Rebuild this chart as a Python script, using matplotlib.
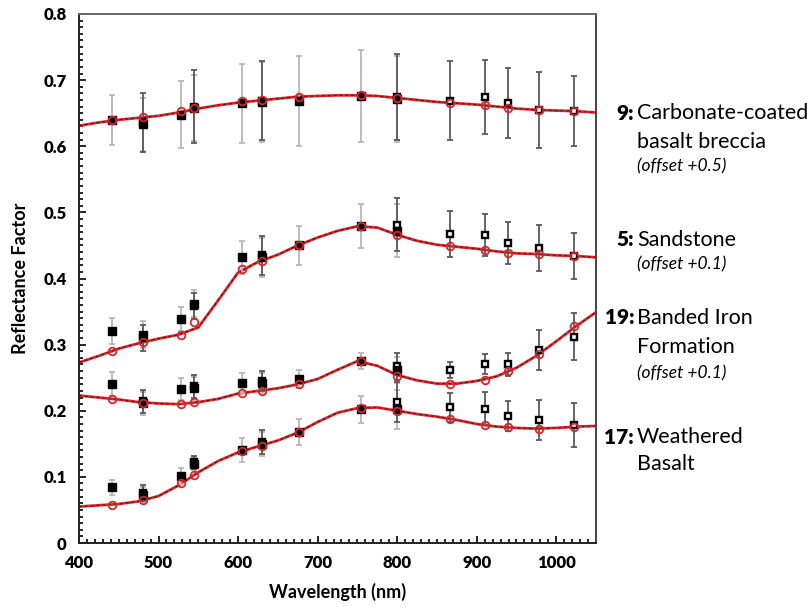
import numpy as np
import matplotlib
matplotlib.use("Agg")
import matplotlib.pyplot as plt
from matplotlib.ticker import MultipleLocator

plt.rcParams['font.family'] = ['Lato', 'DejaVu Sans']

# ---------------- data ----------------
wl_left = [442, 480, 528, 544, 605, 630, 677, 754, 800]
wl_right = [480, 544, 630, 800, 866, 910, 939, 978, 1022]
wl_model = [442, 480, 528, 544, 605, 630, 677, 754, 800, 866, 910, 939, 978, 1022]
wl_curve = [400, 425, 450, 475, 500, 525, 550, 575, 600, 625, 650, 675, 700,
            725, 750, 775, 800, 825, 850, 875, 900, 925, 950, 975, 1000, 1025, 1050]

# Sample 9: Carbonate-coated basalt breccia (offset +0.5)
s9_left = [0.640, 0.633, 0.648, 0.658, 0.665, 0.667, 0.669, 0.676, 0.672]
s9_left_err = [0.038, 0.040, 0.050, 0.050, 0.060, 0.060, 0.068, 0.070, 0.065]
s9_right = [0.636, 0.660, 0.669, 0.674, 0.669, 0.675, 0.665, 0.655, 0.653]
s9_right_err = [0.044, 0.055, 0.060, 0.065, 0.060, 0.056, 0.053, 0.057, 0.053]
s9_model = [0.640, 0.644, 0.653, 0.658, 0.668, 0.670, 0.675, 0.677, 0.673,
            0.666, 0.662, 0.658, 0.655, 0.653]
s9_curve = [0.631, 0.636, 0.640, 0.643, 0.646, 0.651, 0.657, 0.662, 0.666, 0.669,
            0.672, 0.675, 0.676, 0.677, 0.677, 0.676, 0.673, 0.670, 0.667, 0.665,
            0.663, 0.660, 0.657, 0.655, 0.654, 0.653, 0.651]

# Sample 5: Sandstone (offset +0.1)
s5_left = [0.321, 0.315, 0.339, 0.362, 0.432, 0.432, 0.450, 0.479, 0.472]
s5_left_err = [0.020, 0.020, 0.018, 0.020, 0.025, 0.030, 0.030, 0.033, 0.040]
s5_right = [0.310, 0.358, 0.435, 0.481, 0.467, 0.466, 0.454, 0.446, 0.434]
s5_right_err = [0.020, 0.020, 0.030, 0.040, 0.035, 0.032, 0.032, 0.035, 0.035]
s5_model = [0.291, 0.304, 0.315, 0.334, 0.414, 0.426, 0.451, 0.479, 0.466,
            0.449, 0.443, 0.439, 0.437, 0.434]
s5_curve = [0.273, 0.283, 0.294, 0.302, 0.309, 0.315, 0.326, 0.367, 0.409, 0.425,
            0.436, 0.450, 0.462, 0.472, 0.479, 0.477, 0.466, 0.457, 0.451, 0.448,
            0.445, 0.441, 0.438, 0.437, 0.435, 0.434, 0.432]

# Sample 19: Banded Iron Formation (offset +0.1)
s19_left = [0.241, 0.211, 0.233, 0.234, 0.242, 0.242, 0.248, 0.275, 0.262]
s19_left_err = [0.018, 0.018, 0.017, 0.017, 0.015, 0.015, 0.013, 0.012, 0.020]
s19_right = [0.214, 0.237, 0.245, 0.267, 0.261, 0.271, 0.270, 0.292, 0.312]
s19_right_err = [0.018, 0.017, 0.015, 0.020, 0.012, 0.015, 0.018, 0.030, 0.036]
s19_model = [0.218, 0.212, 0.210, 0.213, 0.227, 0.230, 0.240, 0.275, 0.253,
             0.241, 0.247, 0.260, 0.286, 0.328]
s19_curve = [0.223, 0.220, 0.217, 0.213, 0.211, 0.210, 0.213, 0.218, 0.226, 0.230,
             0.234, 0.240, 0.248, 0.262, 0.275, 0.268, 0.254, 0.246, 0.241, 0.241,
             0.245, 0.252, 0.265, 0.283, 0.305, 0.328, 0.349]

# Sample 17: Weathered Basalt
s17_left = [0.084, 0.072, 0.101, 0.120, 0.141, 0.150, 0.168, 0.202, 0.202]
s17_left_err = [0.012, 0.012, 0.012, 0.010, 0.018, 0.018, 0.020, 0.020, 0.030]
s17_right = [0.075, 0.122, 0.153, 0.213, 0.205, 0.203, 0.192, 0.186, 0.178]
s17_right_err = [0.012, 0.010, 0.018, 0.030, 0.022, 0.025, 0.022, 0.030, 0.033]
s17_model = [0.058, 0.065, 0.090, 0.103, 0.139, 0.147, 0.168, 0.204, 0.200,
             0.188, 0.178, 0.175, 0.173, 0.175]
s17_curve = [0.055, 0.057, 0.059, 0.063, 0.071, 0.087, 0.107, 0.124, 0.137, 0.146,
             0.155, 0.167, 0.183, 0.197, 0.204, 0.205, 0.200, 0.195, 0.191, 0.186,
             0.180, 0.176, 0.174, 0.173, 0.174, 0.176, 0.177]

series = [
    (s9_left, s9_left_err, s9_right, s9_right_err, s9_model, s9_curve),
    (s5_left, s5_left_err, s5_right, s5_right_err, s5_model, s5_curve),
    (s19_left, s19_left_err, s19_right, s19_right_err, s19_model, s19_curve),
    (s17_left, s17_left_err, s17_right, s17_right_err, s17_model, s17_curve),
]

x_ticks = [400, 500, 600, 700, 800, 900, 1000]
y_ticks = [0, 0.1, 0.2, 0.3, 0.4, 0.5, 0.6, 0.7, 0.8]
y_tick_labels = ["0", "0.1", "0.2", "0.3", "0.4", "0.5", "0.6", "0.7", "0.8"]

labels = [
    ("9:", "Carbonate-coated", "basalt breccia", "(offset +0.5)"),
    ("5:", "Sandstone", None, "(offset +0.1)"),
    ("19:", "Banded Iron", "Formation", "(offset +0.1)"),
    ("17:", "Weathered", "Basalt", None),
]

# ---------------- figure ----------------
W, H = 807, 607
fig = plt.figure(figsize=(W / 100, H / 100), dpi=100)
ax = fig.add_axes([79 / W, 1 - 543 / H, (596 - 79) / W, (543 - 14) / H])

red = '#d8262a'
light_grey = '#b8b8b8'
dark_grey = '#5a5a5a'

for (lv, le, rv, re, mv, cv) in series:
    ax.plot(wl_curve, cv, color=red, lw=2.0, zorder=2, solid_capstyle='round')
    ax.plot(wl_curve, cv, color='#5a1010', lw=0.7, ls=(0, (3, 3)), zorder=2.1)
    ax.errorbar(wl_left, lv, yerr=le, fmt='none', ecolor=light_grey,
                elinewidth=1.3, capsize=2.5, capthick=1.3, zorder=3)
    ax.errorbar(wl_right, rv, yerr=re, fmt='none', ecolor=dark_grey,
                elinewidth=1.3, capsize=2.5, capthick=1.3, zorder=3.1)
    ax.plot(wl_right, rv, ls='none', marker='s', ms=4.8, mfc='white',
            mec='black', mew=1.7, zorder=4)
    ax.plot(wl_left, lv, ls='none', marker='s', ms=6, color='black', zorder=4.1)
    ax.plot(wl_model, mv, ls='none', marker='o', ms=5.5, mfc='none',
            mec=red, mew=1.3, zorder=5)

ax.set_xlim(400, 1050)
ax.set_ylim(0, 0.8)
ax.set_xticks(x_ticks)
ax.set_xticklabels([str(v) for v in x_ticks])
ax.set_yticks(y_ticks)
ax.set_yticklabels(y_tick_labels)
ax.xaxis.set_minor_locator(MultipleLocator(10))
ax.yaxis.set_minor_locator(MultipleLocator(0.01))
ax.tick_params(which='both', direction='in', top=False, right=False,
               labelsize=12, width=1.2)
ax.tick_params(which='major', length=5, pad=9)
ax.tick_params(which='minor', length=3)
for lab in ax.get_xticklabels() + ax.get_yticklabels():
    lab.set_fontweight('heavy')
for sp in ax.spines.values():
    sp.set_linewidth(1.4)
    sp.set_color('#222222')
ax.spines['top'].set_color('#666666')
ax.spines['right'].set_color('#444444')

ax.set_xlabel("Wavelength (nm)", fontsize=13, fontweight='bold', labelpad=8)
ax.set_ylabel("Reflectance Factor", fontsize=13, fontweight='bold', labelpad=10)

# right-side labels
label_rows = [(113, 142, 166), (240, None, 264), (318, 347, 373), (437, 464, None)]
for (num, l1, l2, off), (y1, y2, y3) in zip(labels, label_rows):
    fig.text(634 / W, 1 - y1 / H, num, ha='right', va='center',
             fontsize=15, fontweight='heavy')
    fig.text(637 / W, 1 - y1 / H, l1, ha='left', va='center', fontsize=15.5)
    if l2 is not None:
        fig.text(637 / W, 1 - y2 / H, l2, ha='left', va='center', fontsize=15.5)
    if off is not None:
        fig.text(637 / W, 1 - y3 / H, off, ha='left', va='center',
                 fontsize=12.5, style='italic')

fig.savefig("out.png", dpi=100)
